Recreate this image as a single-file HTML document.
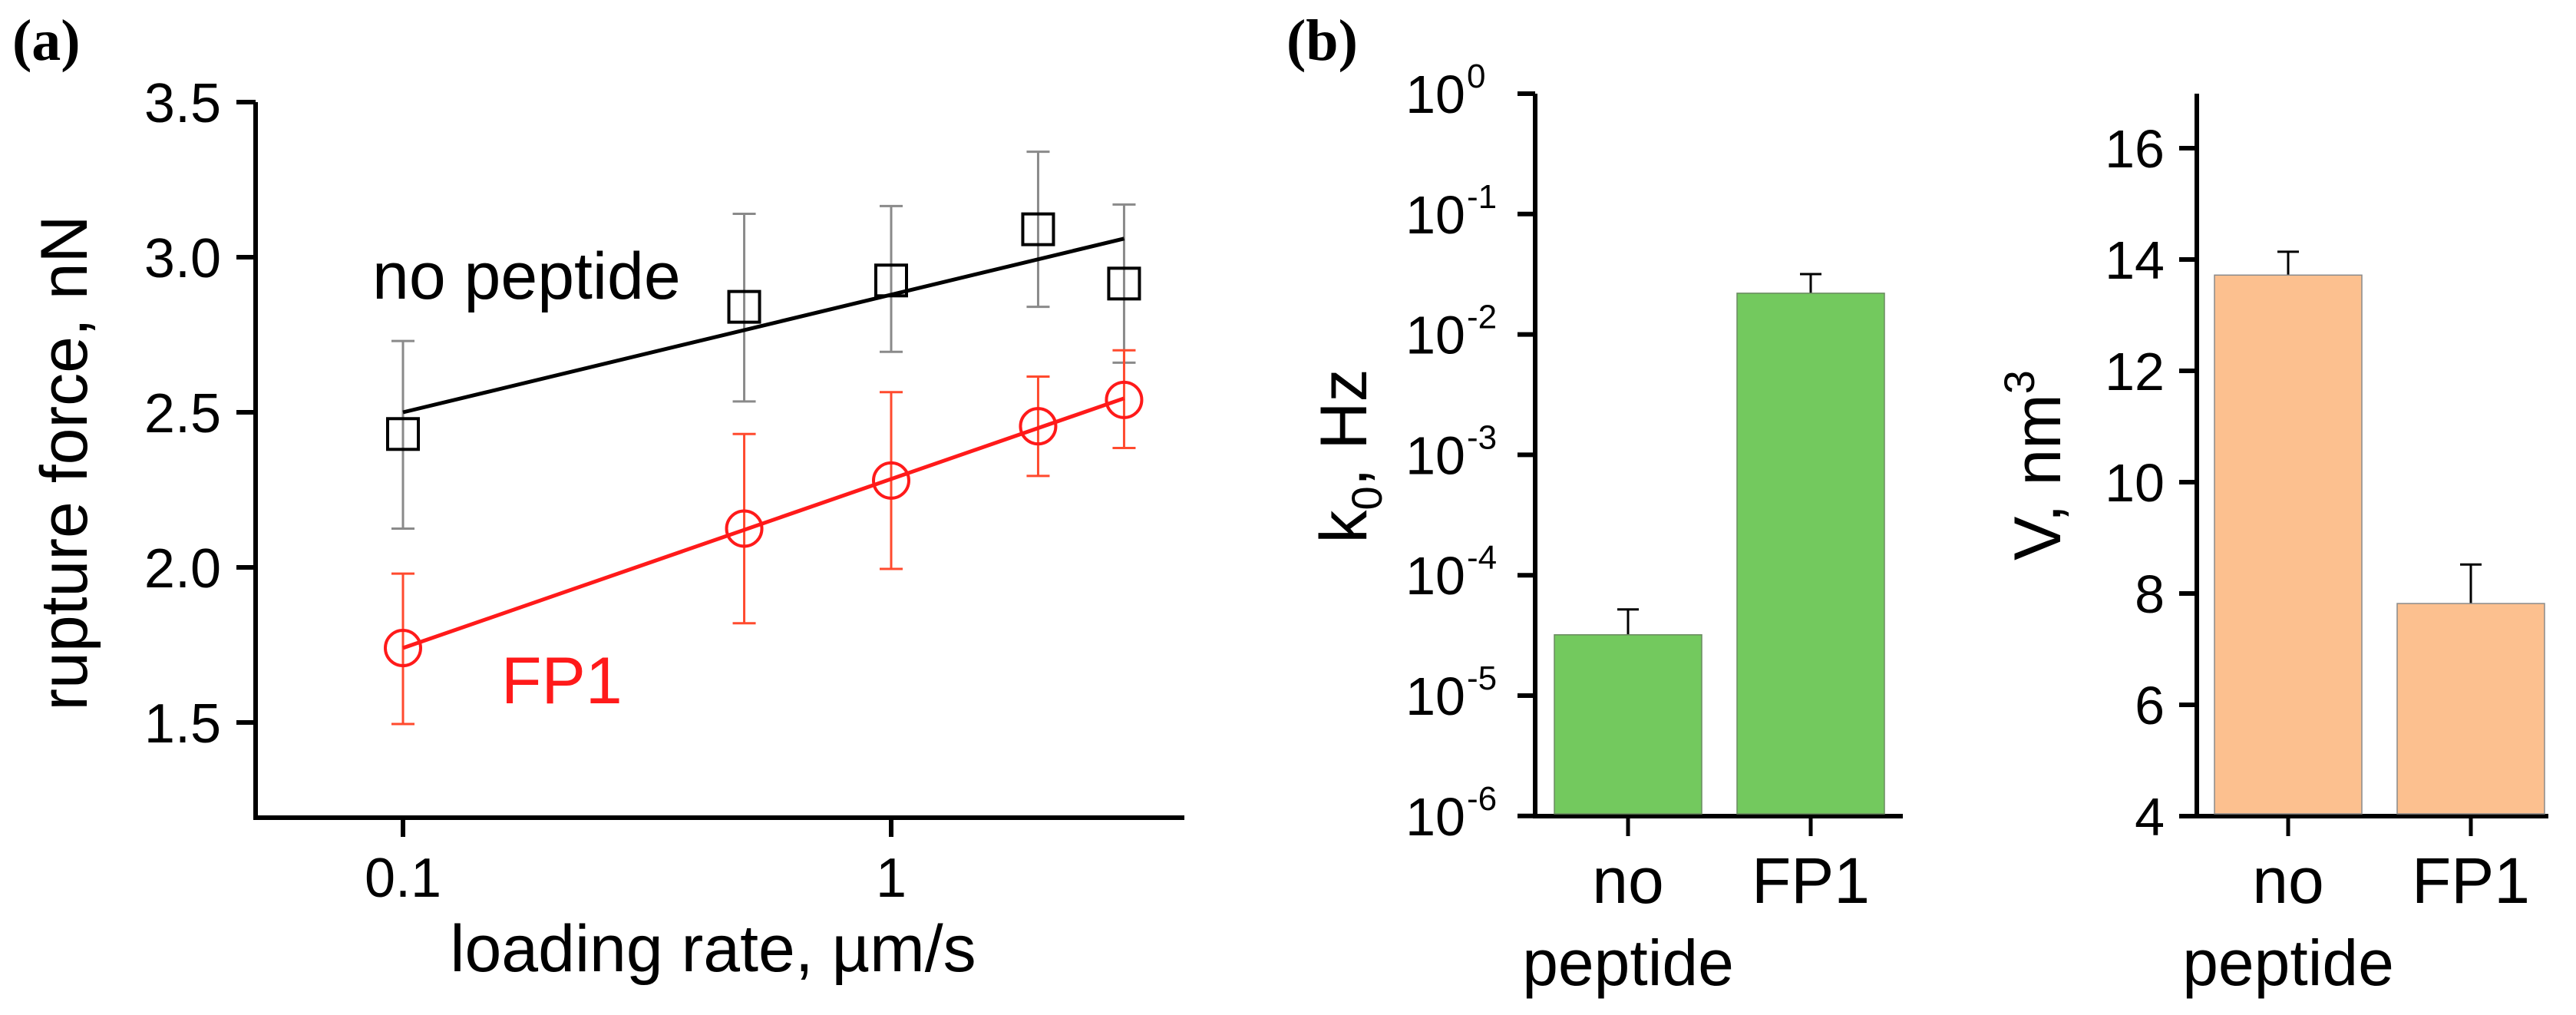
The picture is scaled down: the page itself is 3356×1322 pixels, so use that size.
<!DOCTYPE html>
<html><head><meta charset="utf-8"><style>
html,body{margin:0;padding:0;background:#fff;}
svg{display:block;font-family:"Liberation Sans",Arial,sans-serif;}
</style></head><body>
<svg id="fig" width="3356" height="1322" viewBox="0 0 3356 1322" xmlns="http://www.w3.org/2000/svg">
<text x="16" y="78" font-family="Liberation Serif,serif" font-weight="bold" font-size="76">(a)</text>
<text x="1676" y="78" font-family="Liberation Serif,serif" font-weight="bold" font-size="76">(b)</text>
<g id="pa"></g>
<g id="pb"></g>
<g id="pc"></g>
</svg>
<script>
// Panel (a) data
const rates = [0.1, 0.5, 1, 2, 3];
const noPepForce = [2.43, 2.84, 2.925, 3.09, 2.915];
const noPepErrHi = [2.73, 3.14, 3.165, 3.34, 3.17];
const noPepErrLo = [2.125, 2.535, 2.695, 2.84, 2.66];
const noPepFit = [2.50, 3.06];
const fp1Force = [1.74, 2.125, 2.28, 2.455, 2.54];
const fp1ErrHi = [1.98, 2.43, 2.565, 2.615, 2.70];
const fp1ErrLo = [1.495, 1.82, 1.995, 2.295, 2.385];
const fp1Fit = [1.74, 2.545];
const fitRange = [0.1, 3];
const aYTicks = ["1.5", "2.0", "2.5", "3.0", "3.5"];
const aXTicks = ["0.1", "1"];
// Panel (b) data
const categories = ["no peptide", "FP1"];
const k0Values = [3.2e-5, 0.022];
const k0ErrTop = [5.2e-5, 0.0317];
const k0TickExp = [0, -1, -2, -3, -4, -5, -6];
const volValues = [13.72, 7.82];
const volErrTop = [14.14, 8.52];
const volTicks = [4, 6, 8, 10, 12, 14, 16];

const NS = "http://www.w3.org/2000/svg";
function mk(parent, tag, attrs, text) {
  const e = document.createElementNS(NS, tag);
  for (const k in attrs) e.setAttribute(k, attrs[k]);
  if (text !== undefined) e.textContent = text;
  parent.appendChild(e);
  return e;
}

// ---------- Panel a ----------
const pa = document.getElementById('pa');
const ax = v => 525 + (Math.log10(v) + 1) * 636;
const ay = v => 133 + (3.5 - v) * 404;
let e;
e = mk(pa, 'path', {d: 'M333,' + ay(3.5) + ' V1065 H1543', fill: 'none', stroke: '#000', 'stroke-width': 6});


aYTicks.forEach(t => {
  const y = ay(parseFloat(t));
  e = mk(pa, 'line', {x1: 308, x2: 333, y1: y, y2: y, stroke: '#000', 'stroke-width': 6});
  
  
  e = mk(pa, 'text', {x: 288, y: y + 26, 'text-anchor': 'end', 'font-size': 72}, t);
  
  
});
aXTicks.forEach(t => {
  const x = ax(parseFloat(t));
  e = mk(pa, 'line', {x1: x, x2: x, y1: 1065, y2: 1090, stroke: '#000', 'stroke-width': 6});
  
  
  e = mk(pa, 'text', {x: x, y: 1168, 'text-anchor': 'middle', 'font-size': 72}, t);
  
  
});
e = mk(pa, 'text', {x: 929, y: 1265, 'text-anchor': 'middle', 'font-size': 86}, 'loading rate, µm/s');


e = mk(pa, 'text', {x: 0, y: 0, 'text-anchor': 'middle', 'font-size': 86, transform: 'translate(113,603) rotate(-90)'}, 'rupture force, nN');



function errBars(vals, hi, lo, color, name) {
  rates.forEach((r, i) => {
    const x = ax(r);
    e = mk(pa, 'path', {d: `M${x},${ay(hi[i])}V${ay(lo[i])}M${x-15},${ay(hi[i])}H${x+15}M${x-15},${ay(lo[i])}H${x+15}`, stroke: color, 'stroke-width': 3, fill: 'none'});
    
    
  });
}
errBars(noPepForce, noPepErrHi, noPepErrLo, '#8a8a8a', 'no-peptide-error-bar');
errBars(fp1Force, fp1ErrHi, fp1ErrLo, '#ff4a2e', 'fp1-error-bar');
e = mk(pa, 'line', {x1: ax(fitRange[0]), x2: ax(fitRange[1]), y1: ay(noPepFit[0]), y2: ay(noPepFit[1]), stroke: '#000', 'stroke-width': 5});


e = mk(pa, 'line', {x1: ax(fitRange[0]), x2: ax(fitRange[1]), y1: ay(fp1Fit[0]), y2: ay(fp1Fit[1]), stroke: '#ff1a1a', 'stroke-width': 5});


rates.forEach((r, i) => {
  e = mk(pa, 'rect', {x: ax(r) - 20, y: ay(noPepForce[i]) - 20, width: 40, height: 40, fill: 'none', stroke: '#000', 'stroke-width': 4});
  
  
  e = mk(pa, 'circle', {cx: ax(r), cy: ay(fp1Force[i]), r: 23, fill: 'none', stroke: '#ff1a1a', 'stroke-width': 4});
  
  
});
e = mk(pa, 'text', {x: 485, y: 389, 'font-size': 86}, 'no peptide');


e = mk(pa, 'text', {x: 653, y: 916, 'font-size': 86, fill: '#ff1a1a'}, 'FP1');



// ---------- shared bar helpers ----------
function catLabels(g, xs) {
  categories.forEach((c, i) => {
    const parts = c.split(' ');
    e = mk(g, 'text', {x: xs[i], y: 1176, 'text-anchor': 'middle', 'font-size': 84}, parts[0]);
    
    
    if (parts[1]) {
      e = mk(g, 'text', {x: xs[i], y: 1283, 'text-anchor': 'middle', 'font-size': 84}, parts[1]);
      
      
    }
  });
}

// ---------- Panel b (k0, log) ----------
const pb = document.getElementById('pb');
const by = v => 122 + (0 - Math.log10(v)) * 156.8;
const bX = [2121, 2359];
const bHalf = 96;
e = mk(pb, 'path', {d: 'M2000,122 V1063 H2479', fill: 'none', stroke: '#000', 'stroke-width': 6});


k0TickExp.forEach(p => {
  const y = by(Math.pow(10, p));
  e = mk(pb, 'line', {x1: 1977, x2: 2000, y1: y, y2: y, stroke: '#000', 'stroke-width': 6});
  
  
  e = mk(pb, 'text', {x: 1909, y: y + 25, 'text-anchor': 'end', 'font-size': 70}, '10');
  
  
  e = mk(pb, 'text', {x: 1911, y: y - 8, 'font-size': 44}, String(p));
  
  
});
k0Values.forEach((v, i) => {
  e = mk(pb, 'path', {d: `M${bX[i]},${by(v)}V${by(k0ErrTop[i])}M${bX[i]-14},${by(k0ErrTop[i])}H${bX[i]+14}`, stroke: '#000', 'stroke-width': 3, fill: 'none'});
  
  
  e = mk(pb, 'rect', {x: bX[i] - bHalf, y: by(v), width: bHalf * 2, height: 1060 - by(v), fill: '#73c95e', stroke: '#6a8a60', 'stroke-width': 1.5});
  
  
  e = mk(pb, 'line', {x1: bX[i], x2: bX[i], y1: 1063, y2: 1089, stroke: '#000', 'stroke-width': 5});
  
  
});
catLabels(pb, bX);
e = mk(pb, 'text', {x: 0, y: 0, 'text-anchor': 'middle', 'font-size': 86, transform: 'translate(1780,594) rotate(-90)'});


mk(e, 'tspan', {}, 'k');
mk(e, 'tspan', {dy: 20, 'font-size': 56}, '0');
mk(e, 'tspan', {dy: -20}, ', Hz');

// ---------- Panel c (V, linear) ----------
const pc = document.getElementById('pc');
const cy = v => 1063 - (v - 4) * 72.5;
const cX = [2981, 3219];
e = mk(pc, 'path', {d: 'M2862,122 V1063 H3320', fill: 'none', stroke: '#000', 'stroke-width': 6});


volTicks.forEach(t => {
  const y = cy(t);
  e = mk(pc, 'line', {x1: 2839, x2: 2862, y1: y, y2: y, stroke: '#000', 'stroke-width': 6});
  
  
  e = mk(pc, 'text', {x: 2820, y: y + 25, 'text-anchor': 'end', 'font-size': 70}, String(t));
  
  
});
volValues.forEach((v, i) => {
  e = mk(pc, 'path', {d: `M${cX[i]},${cy(v)}V${cy(volErrTop[i])}M${cX[i]-14},${cy(volErrTop[i])}H${cX[i]+14}`, stroke: '#000', 'stroke-width': 3, fill: 'none'});
  
  
  e = mk(pc, 'rect', {x: cX[i] - bHalf, y: cy(v), width: bHalf * 2, height: 1060 - cy(v), fill: '#fcc08f', stroke: '#8a8a8a', 'stroke-width': 1.5});
  
  
  e = mk(pc, 'line', {x1: cX[i], x2: cX[i], y1: 1063, y2: 1089, stroke: '#000', 'stroke-width': 5});
  
  
});
catLabels(pc, cX);
e = mk(pc, 'text', {x: 0, y: 0, 'text-anchor': 'middle', 'font-size': 86, transform: 'translate(2684,606) rotate(-90)'});


mk(e, 'tspan', {}, 'V, nm');
mk(e, 'tspan', {dy: -34, 'font-size': 56}, '3');
</script>
</body></html>
